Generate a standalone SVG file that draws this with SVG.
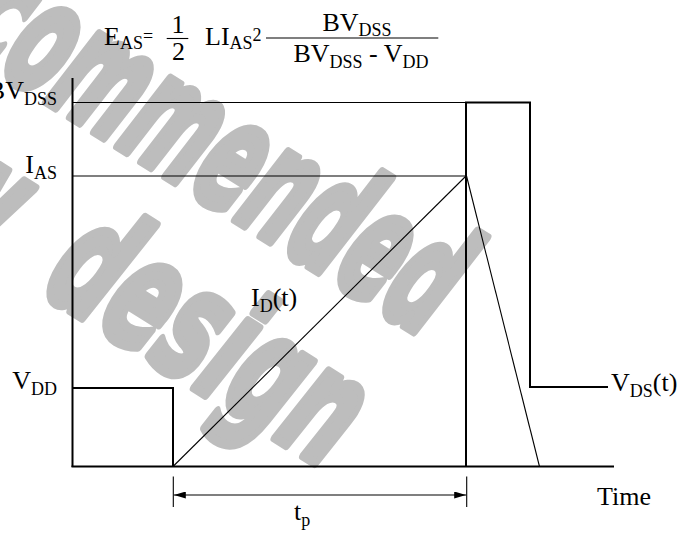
<svg xmlns="http://www.w3.org/2000/svg" width="700" height="535" viewBox="0 0 700 535">
<defs>
<style>
.t{font-family:"Liberation Serif","Times New Roman",serif;font-size:26px;fill:#000}
.s{font-size:18px}
.thick{fill:none;stroke:#000;stroke-width:2}
.thin{fill:none;stroke:#000;stroke-width:1.1}
.wm{font-family:"DejaVu Sans",sans-serif;font-weight:bold;font-style:italic;font-size:155px;fill:#bdbdbd;stroke:#bdbdbd;stroke-width:8;stroke-linejoin:round}
</style>
<marker id="ah" viewBox="0 0 12 7" refX="12" refY="3.5" markerWidth="12" markerHeight="7" markerUnits="userSpaceOnUse" orient="auto-start-reverse">
<path d="M0,0 L12,3.5 L0,7 Z" fill="#000"/>
</marker>
</defs>
<rect width="700" height="535" fill="#fff"/>
<g id="watermark">
<text class="wm" transform="translate(425,338) rotate(32) scale(0.52,1)" text-anchor="end" vector-effect="non-scaling-stroke">Not recommended</text>
<text class="wm" transform="translate(326,470) rotate(32) scale(0.58,1)" text-anchor="end" word-spacing="45" vector-effect="non-scaling-stroke">for new design</text>
</g>
<g id="connectors">
<line class="thick" x1="72.5" y1="78" x2="72.5" y2="467"/>
<line class="thick" x1="71.5" y1="466.5" x2="614" y2="466.5"/>
<line class="thin" x1="72.5" y1="102.5" x2="466" y2="102.5"/>
<line class="thin" x1="72.5" y1="176" x2="466" y2="176"/>
<polyline class="thick" points="72.5,388 173,388 173,466.5"/>
<line class="thin" x1="173" y1="466.5" x2="466" y2="176"/>
<polyline class="thick" points="466,466.5 466,102.5 530,102.5 530,387 608,387"/>
<line class="thin" x1="466.5" y1="176" x2="539.5" y2="466.5"/>
<line class="thin" x1="173.3" y1="476.5" x2="173.3" y2="507"/>
<line class="thin" x1="466.7" y1="476.5" x2="466.7" y2="507"/>
<line class="thin" x1="173.8" y1="495" x2="466.2" y2="495" marker-start="url(#ah)" marker-end="url(#ah)"/>
</g>
<g id="label-bvdss"><text class="t" x="57" y="99" text-anchor="end">BV<tspan class="s" dy="6">DSS</tspan></text></g>
<g id="label-ias"><text class="t" x="57" y="173" text-anchor="end">I<tspan class="s" dy="6">AS</tspan></text></g>
<g id="label-vdd"><text class="t" x="57" y="389" text-anchor="end">V<tspan class="s" dy="6">DD</tspan></text></g>
<g id="label-id"><text class="t" x="251" y="306">I<tspan class="s" dy="6">D</tspan><tspan dy="-6">(t)</tspan></text></g>
<g id="label-vds"><text class="t" x="611" y="391">V<tspan class="s" dy="6">DS</tspan><tspan dy="-6">(t)</tspan></text></g>
<g id="label-time"><text class="t" x="597" y="505">Time</text></g>
<g id="label-tp"><text class="t" x="294" y="520">t<tspan class="s" dy="6">p</tspan></text></g>
<g id="formula">
<text class="t" x="104" y="44.5">E<tspan class="s" dy="4">AS</tspan><tspan class="s" dy="-7">=</tspan></text>
<line class="thin" x1="166.7" y1="38.5" x2="188.3" y2="38.5"/>
<text class="t" x="178" y="33.3" text-anchor="middle" font-size="23">1</text>
<text class="t" x="178.5" y="60" text-anchor="middle" font-size="23">2</text>
<text class="t" x="205" y="45">LI<tspan class="s" dy="4">AS</tspan><tspan class="s" dy="-8">2</tspan></text>
<line class="thin" x1="266" y1="38" x2="438.3" y2="38"/>
<text class="t" x="357" y="31" text-anchor="middle">BV<tspan class="s" dy="4.5">DSS</tspan></text>
<text class="t" x="361" y="62" text-anchor="middle">BV<tspan class="s" dy="6">DSS</tspan><tspan dy="-6"> - V</tspan><tspan class="s" dy="6">DD</tspan></text>
</g>
</svg>
